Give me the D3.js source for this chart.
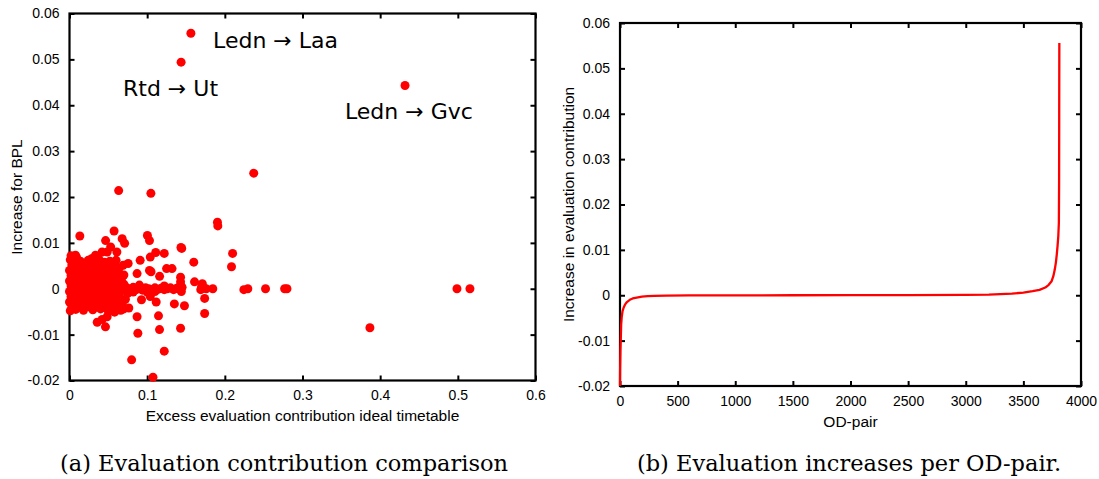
<!DOCTYPE html>
<html><head><meta charset="utf-8">
<script src="https://cdn.jsdelivr.net/npm/d3@7"></script>
<style>body{margin:0;background:#fff}svg{display:block}</style>
</head><body>
<svg id="c" width="1099" height="479"></svg>
<script>
// ---------- DATA ----------
const scatterXTicks = [0, 0.1, 0.2, 0.3, 0.4, 0.5, 0.6];
const scatterYTicks = [-0.02, -0.01, 0, 0.01, 0.02, 0.03, 0.04, 0.05, 0.06];
const lineXTicks = [0, 500, 1000, 1500, 2000, 2500, 3000, 3500, 4000];
const lineYTicks = [-0.02, -0.01, 0, 0.01, 0.02, 0.03, 0.04, 0.05, 0.06];

// [excess evaluation contribution ideal timetable, increase for BPL]
const outlierPoints = [
 [0.1563,0.0557],[0.1437,0.0494],[0.432,0.0443],[0.2372,0.0252],[0.0633,0.0214],[0.1048,0.0208],
 [0.1905,0.0145],[0.1910,0.0137],[0.0133,0.0115],[0.0574,0.0126],[0.0465,0.0105],[0.0678,0.0109],
 [0.0710,0.0099],[0.1003,0.0116],[0.1030,0.0105],[0.1435,0.0090],[0.1445,0.0088],[0.1600,0.0058],
 [0.1220,0.0077],[0.1110,0.0079],[0.1040,0.0069],[0.0910,0.0062],[0.0610,0.0080],[0.0530,0.0091],
 [0.0485,0.0080],[0.0420,0.0080],[0.0335,0.0073],[0.0077,0.0073],[0.0090,0.0069],[0.0290,0.0066],
 [0.0755,0.0055],[0.0870,0.0033],[0.1030,0.0040],[0.1050,0.0037],[0.1160,0.0027],[0.1250,0.0044],
 [0.1320,0.0044],[0.1430,0.0015],[0.1430,0.0025],[0.1610,0.0015],[0.1710,0.0011],[0.1720,0.0003],
 [0.1845,0.0000],[0.1740,-0.0021],[0.1740,-0.0054],[0.1480,-0.0037],[0.1350,-0.0033],[0.1116,-0.0029],
 [0.1040,-0.0017],[0.0927,-0.0024],[0.0870,-0.0061],[0.1146,-0.0059],[0.1159,-0.0089],[0.1430,-0.0086],
 [0.0880,-0.0097],[0.0357,-0.0073],[0.0420,-0.0067],[0.0485,-0.0061],[0.0463,-0.0083],[0.0627,-0.0046],
 [0.0764,-0.0042],[0.1220,-0.0136],[0.0800,-0.0155],[0.1075,-0.0193],[0.3868,-0.0085],[0.4989,0.0000],
 [0.5156,0.0000],[0.2770,0.0000],[0.2800,0.0000],[0.2524,0.0000],[0.2245,-0.0002],[0.2296,0.0000],
 [0.2100,0.0077],[0.2086,0.0048],[0.1700,0.0004],[0.1690,-0.0002],[0.1760,0.0000]
];
const bandPoints = [
 [0.066,0.0004],[0.070,-0.0003],[0.074,0.0002],[0.078,-0.0001],[0.082,0.0003],[0.086,-0.0002],
 [0.090,0.0001],[0.094,-0.0003],[0.098,0.0002],[0.102,0.0000],[0.106,-0.0002],[0.110,0.0002],
 [0.114,-0.0001],[0.118,0.0001],[0.122,-0.0002],[0.126,0.0000],[0.130,0.0002],[0.134,-0.0002],
 [0.138,0.0001],[0.142,-0.0001],[0.145,0.0003],[0.143,0.0008],[0.144,-0.0006],[0.122,0.0006],
 [0.100,-0.0007],[0.082,-0.0007],[0.090,0.0008],[0.110,-0.0006],[0.070,0.0010],[0.075,-0.0010]
];
const clusterPoints = [
 [0.003,0.0052],[0.011,0.0053],[0.019,0.0051],[0.027,0.0054],[0.035,0.0052],[0.043,0.0050],[0.051,0.0053],[0.058,0.0049],
 [0.000,0.0040],[0.007,0.0041],[0.015,0.0039],[0.023,0.0042],[0.031,0.0040],[0.039,0.0038],[0.047,0.0041],[0.055,0.0040],[0.062,0.0039],
 [0.002,0.0029],[0.010,0.0028],[0.018,0.0030],[0.026,0.0029],[0.034,0.0027],[0.042,0.0030],[0.050,0.0028],[0.058,0.0029],[0.064,0.0027],
 [0.000,0.0017],[0.006,0.0018],[0.014,0.0016],[0.022,0.0017],[0.030,0.0019],[0.038,0.0016],[0.046,0.0018],[0.054,0.0017],[0.062,0.0016],[0.067,0.0018],
 [0.002,0.0006],[0.010,0.0005],[0.018,0.0007],[0.026,0.0006],[0.034,0.0004],[0.042,0.0006],[0.050,0.0005],[0.058,0.0007],[0.065,0.0006],
 [0.000,-0.0006],[0.006,-0.0005],[0.014,-0.0007],[0.022,-0.0006],[0.030,-0.0004],[0.038,-0.0006],[0.046,-0.0007],[0.054,-0.0005],[0.062,-0.0006],[0.067,-0.0004],
 [0.002,-0.0017],[0.010,-0.0018],[0.018,-0.0016],[0.026,-0.0017],[0.034,-0.0019],[0.042,-0.0017],[0.050,-0.0016],[0.058,-0.0018],[0.064,-0.0017],
 [0.000,-0.0029],[0.007,-0.0028],[0.015,-0.0030],[0.023,-0.0029],[0.031,-0.0027],[0.039,-0.0030],[0.047,-0.0029],[0.055,-0.0028],[0.062,-0.0030],
 [0.003,-0.0039],[0.011,-0.0040],[0.019,-0.0038],[0.027,-0.0040],[0.035,-0.0039],[0.043,-0.0041],[0.051,-0.0038],[0.059,-0.0040],
 [0.001,0.0063],[0.004,0.0058],[0.002,0.0072],[0.006,0.0066],[0.014,0.0060],[0.024,0.0062],[0.038,0.0064],[0.045,0.0058],
 [0.052,0.0060],[0.060,0.0062],[0.001,-0.0048],[0.008,-0.0045],[0.018,-0.0047],[0.030,-0.0046],[0.040,-0.0044],[0.050,-0.0049],
 [0.058,-0.0051],[0.066,-0.0047],[0.070,-0.0044],[0.069,0.0051],[0.064,0.0045],[0.070,0.0030],[0.072,-0.0023],[0.068,-0.0033]
];
const annotations = [
 {text:"Ledn \u2192 Laa", x:0.1848, y:0.0525},
 {text:"Rtd \u2192 Ut",   x:0.0689, y:0.0420},
 {text:"Ledn \u2192 Gvc", x:0.3547, y:0.0370}
];

// sorted increase in evaluation contribution per OD-pair
const odPair   = [0,1,4,7,10,15,22,32,45,60,85,110,145,190,240,300,400,600,1000,1500,2000,2500,3000,3200,3400,3500,3580,3640,3690,3720,3745,3760,3772,3782,3790,3797,3803,3808,3810,3811,3812];
const increase = [-0.0200,-0.0165,-0.0120,-0.0095,-0.0065,-0.0048,-0.0035,-0.0027,-0.0020,-0.0015,-0.0010,-0.0007,-0.0005,-0.0003,-0.00018,-0.00012,-0.00007,-0.00004,-0.00002,0,0.00001,0.00003,0.00008,0.00014,0.00035,0.0006,0.0009,0.0012,0.0017,0.0023,0.0031,0.0042,0.0056,0.0072,0.0090,0.0110,0.0130,0.0160,0.0250,0.0400,0.0556];

// ---------- DRAW ----------
const svg = d3.select("#c");
const RED = "#ff0000";
const tickFont = "Liberation Sans, Arial, sans-serif";
const fmtY = d => d === 0 ? "0" : d3.format(".2f")(d).replace("\u2212","-");
const fmtX = d => d === 0 ? "0" : String(d);

function frame(g, x, y, xt, yt, xf, yf) {
  const [x0,x1] = x.range(), [y1,y0] = y.range();
  const T = 5;
  const ax = g.append("g").attr("transform",`translate(0,${y1})`)
    .call(d3.axisBottom(x).tickValues(xt).tickSize(-T).tickPadding(10).tickFormat(xf));
  const at = g.append("g").attr("transform",`translate(0,${y0})`)
    .call(d3.axisTop(x).tickValues(xt).tickSize(-T).tickFormat(""));
  const al = g.append("g").attr("transform",`translate(${x0},0)`)
    .call(d3.axisLeft(y).tickValues(yt).tickSize(-T).tickPadding(10).tickFormat(yf));
  const ar = g.append("g").attr("transform",`translate(${x1},0)`)
    .call(d3.axisRight(y).tickValues(yt).tickSize(-T).tickFormat(""));
  [ax,at,al,ar].forEach(a => {
    a.select(".domain").remove();
    a.selectAll(".tick line").attr("stroke","#000").attr("stroke-width",2);
    a.selectAll("text").attr("font-family",tickFont).attr("font-size",14).attr("fill","#000");
  });
  g.append("rect").attr("x",x0).attr("y",y0).attr("width",x1-x0).attr("height",y1-y0)
    .attr("fill","none").attr("stroke","#000").attr("stroke-width",2.2);
}

// ---- (a) scatter ----
const xA = d3.scaleLinear().domain([0,0.6]).range([69.5,535.5]);
const yA = d3.scaleLinear().domain([-0.02,0.06]).range([380.5,13.5]);
const gA = svg.append("g");
frame(gA, xA, yA, scatterXTicks, scatterYTicks, fmtX, fmtY);
const allPts = clusterPoints.concat(bandPoints, outlierPoints);
gA.append("g").selectAll("circle").data(allPts).join("circle")
  .attr("cx", d => xA(d[0])).attr("cy", d => yA(d[1])).attr("r", 4.5).attr("fill", RED);
gA.append("g").selectAll("text").data(annotations).join("text")
  .attr("x", d => xA(d.x)).attr("y", d => yA(d.y))
  .attr("font-family","DejaVu Sans, sans-serif").attr("font-size",22).attr("fill","#000")
  .text(d => d.text);
gA.append("text").attr("x",302.5).attr("y",421).attr("text-anchor","middle")
  .attr("font-family",tickFont).attr("font-size",15.5).text("Excess evaluation contribution ideal timetable");
gA.append("text").attr("transform","translate(22,197) rotate(-90)").attr("text-anchor","middle")
  .attr("font-family",tickFont).attr("font-size",15.5).text("Increase for BPL");

// ---- (b) line ----
const xB = d3.scaleLinear().domain([0,4000]).range([620,1081]);
const yB = d3.scaleLinear().domain([-0.02,0.06]).range([386,23]);
const gB = svg.append("g");
frame(gB, xB, yB, lineXTicks, lineYTicks, fmtX, fmtY);
const lineData = odPair.map((d,i) => [d, increase[i]]);
gB.append("path").datum(lineData)
  .attr("d", d3.line().x(d => xB(d[0])).y(d => yB(d[1])))
  .attr("fill","none").attr("stroke",RED).attr("stroke-width",2.3).attr("stroke-linejoin","round");
gB.append("text").attr("x",850.5).attr("y",427).attr("text-anchor","middle")
  .attr("font-family",tickFont).attr("font-size",15.5).text("OD-pair");
gB.append("text").attr("transform","translate(574,204.5) rotate(-90)").attr("text-anchor","middle")
  .attr("font-family",tickFont).attr("font-size",15.5).text("Increase in evaluation contribution");

// ---- captions ----
const capFont = "DejaVu Serif, serif";
svg.append("text").attr("x",284).attr("y",471).attr("text-anchor","middle")
  .attr("font-family",capFont).attr("font-size",22.5).text("(a) Evaluation contribution comparison");
svg.append("text").attr("x",849).attr("y",471).attr("text-anchor","middle")
  .attr("font-family",capFont).attr("font-size",22.5).text("(b) Evaluation increases per OD-pair.");
</script>
</body></html>
